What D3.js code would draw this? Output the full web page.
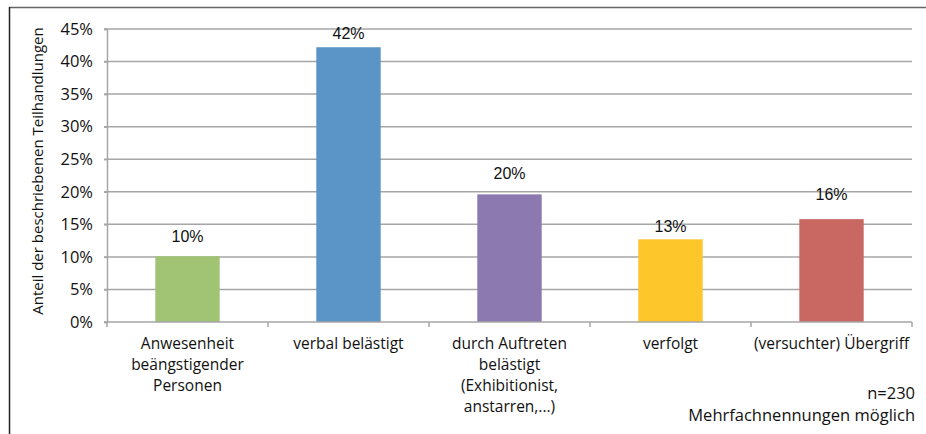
<!DOCTYPE html>
<html><head><meta charset="utf-8">
<script src="https://cdn.jsdelivr.net/npm/d3@7"></script>
<style>
html,body{margin:0;padding:0;background:#fff;}
svg{display:block;}
</style></head>
<body>
<svg id="chart" width="926" height="434"></svg>
<script>
const categories = [
  ["Anwesenheit", "beängstigender", "Personen"],
  ["verbal belästigt"],
  ["durch Auftreten", "belästigt", "(Exhibitionist,", "anstarren,...)"],
  ["verfolgt"],
  ["(versuchter) Übergriff"]
];
const values = [10.1, 42.2, 19.6, 12.7, 15.8];
const valueLabels = ["10%", "42%", "20%", "13%", "16%"];
const barColors = ["#a0c474", "#5b95c8", "#8c79b0", "#fdc62b", "#c96862"];
const yTicks = [0, 5, 10, 15, 20, 25, 30, 35, 40, 45];
const yTitle = "Anteil der beschriebenen Teilhandlungen";
const notes = ["n=230", "Mehrfachnennungen möglich"];

// layout (not data)
const labelGap = [20, 14, 21, 13, 25];
const svg = d3.select("#chart");
const pL = 107, pR = 912, pT = 29, pB = 322;

// frame
svg.append("line").attr("x1", 9).attr("x2", 926).attr("y1", 7.5).attr("y2", 7.5)
  .attr("stroke", "#666").attr("stroke-width", 1.5);
svg.append("line").attr("x1", 9.5).attr("x2", 9.5).attr("y1", 7).attr("y2", 434)
  .attr("stroke", "#222").attr("stroke-width", 1.5);

const x = d3.scaleBand().domain(d3.range(categories.length)).range([pL, pR]).paddingInner(0.6).paddingOuter(0.3);
const xb = d3.scaleBand().domain(d3.range(categories.length)).range([pL, pR]);
const y = d3.scaleLinear().domain([0, 45]).range([pB, pT]);

// grid
svg.append("g").selectAll("line").data(yTicks.filter(t => t > 0)).join("line")
  .attr("x1", pL - 3).attr("x2", pR)
  .attr("y1", d => y(d)).attr("y2", d => y(d))
  .attr("stroke", "#a6a6a6").attr("stroke-width", 1.5);

// y axis
const yAxis = svg.append("g").attr("transform", `translate(${pL},0)`)
  .call(d3.axisLeft(y).tickValues(yTicks).tickSize(3).tickPadding(11).tickFormat(d => d + "%"));
yAxis.select(".domain").attr("stroke", "#a6a6a6").attr("stroke-width", 1.5);
yAxis.selectAll(".tick line").attr("stroke", "#a6a6a6").attr("stroke-width", 1.5);
yAxis.selectAll("text").attr("font-family", "Open Sans").attr("font-size", 16.5).attr("fill", "#111");

// bars
svg.append("g").selectAll("rect").data(values).join("rect")
  .attr("x", (d, i) => x(i)).attr("width", x.bandwidth())
  .attr("y", d => y(d)).attr("height", d => pB - y(d))
  .attr("fill", (d, i) => barColors[i]);

// x axis
const xAxis = svg.append("g").attr("transform", `translate(0,${pB})`);
xAxis.append("line").attr("x1", pL - 3).attr("x2", pR).attr("y1", 0).attr("y2", 0)
  .attr("stroke", "#a6a6a6").attr("stroke-width", 1.5);
xAxis.selectAll("line.tk").data(d3.range(categories.length + 1)).join("line").attr("class", "tk")
  .attr("x1", i => pL + i * xb.bandwidth()).attr("x2", i => pL + i * xb.bandwidth())
  .attr("y1", 0).attr("y2", 5).attr("stroke", "#a6a6a6").attr("stroke-width", 1.5);

// category labels
const catG = svg.append("g");
categories.forEach((lines, i) => {
  const t = catG.append("text").attr("text-anchor", "middle")
    .attr("font-family", "Open Sans").attr("font-size", 15.5).attr("fill", "#111");
  lines.forEach((ln, j) => {
    t.append("tspan").attr("x", xb(i) + xb.bandwidth() / 2).attr("y", 349 + j * 21).text(ln);
  });
});

// value labels
svg.append("g").selectAll("text").data(values).join("text")
  .attr("x", (d, i) => x(i) + x.bandwidth() / 2)
  .attr("y", (d, i) => y(d) - labelGap[i] + 6)
  .attr("text-anchor", "middle").attr("font-family", "Liberation Sans").attr("font-size", 16)
  .attr("fill", "#111").text((d, i) => valueLabels[i]);

// y title
svg.append("text").attr("transform", `translate(43,${(30 + 312) / 2}) rotate(-90)`)
  .attr("text-anchor", "middle").attr("font-family", "Open Sans").attr("font-size", 15)
  .attr("fill", "#111").text(yTitle);

// notes
svg.append("g").selectAll("text").data(notes).join("text")
  .attr("x", 915).attr("y", (d, i) => 399 + i * 22)
  .attr("text-anchor", "end").attr("font-family", "Open Sans").attr("font-size", 16.5)
  .attr("fill", "#111").text(d => d);
</script>
</body></html>
